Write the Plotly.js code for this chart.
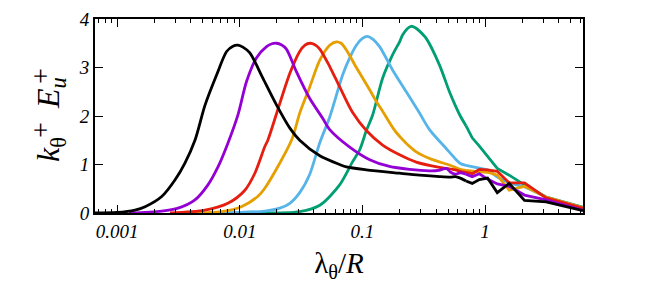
<!DOCTYPE html>
<html>
<head>
<meta charset="utf-8">
<script src="https://cdn.plot.ly/plotly-3.0.1.min.js"></script>
<style>html,body{margin:0;padding:0;background:#fff;}#chart{width:654px;height:299px;}</style>
</head>
<body>
<div id="chart"></div>
<script>
// lambda_theta / R values and k_theta^+ E_u^+ values
const blackX  = [0.00066,0.0010,0.0014,0.00169,0.00231,0.00296,0.00357,0.00431,0.0052,0.00648,0.00781,0.0088,0.00965,0.0106,0.01208,0.01542,0.0199,0.0256,0.0308,0.0449,0.0652,0.074,0.1076,0.2008,0.292,0.4249,0.524,0.571,0.628,0.698,0.785,0.898,1.047,1.257,1.571,2.094,3.142,6.283];
const blackY  = [0.0,0.01,0.06,0.13,0.34,0.68,1.03,1.5,2.22,2.85,3.33,3.44,3.46,3.42,3.3,2.78,2.23,1.75,1.5,1.18,1.0,0.95,0.89,0.82,0.78,0.75,0.74,0.75,0.72,0.66,0.61,0.69,0.72,0.42,0.61,0.26,0.23,0.05];

const purpleX = [0.00125,0.00231,0.00314,0.00431,0.0055,0.00664,0.008,0.0097,0.01135,0.0137,0.01652,0.0183,0.0199,0.0218,0.024,0.029,0.0372,0.0475,0.0541,0.0787,0.1145,0.166,0.242,0.352,0.42,0.483,0.524,0.571,0.628,0.698,0.785,0.898,1.047,1.257,1.571,2.094,3.142,6.283];
const purpleY = [0.0,0.04,0.1,0.27,0.58,0.95,1.44,2.04,2.71,3.2,3.43,3.49,3.5,3.47,3.38,2.91,2.36,1.95,1.72,1.36,1.1,0.96,0.9,0.87,0.88,0.92,0.84,0.8,0.83,0.8,0.75,0.81,0.7,0.6,0.55,0.37,0.27,0.06];

const redX    = [0.0027,0.0052,0.008,0.011,0.01327,0.016,0.01693,0.0212,0.0256,0.0308,0.034,0.0372,0.041,0.0449,0.0541,0.0652,0.0832,0.1076,0.146,0.2008,0.2746,0.4249,0.571,0.628,0.698,0.785,0.898,1.047,1.257,1.571,2.094,3.142,6.283];
const redY    = [0.0,0.06,0.2,0.47,0.82,1.37,1.5,2.26,2.88,3.33,3.46,3.5,3.47,3.38,3.02,2.6,2.07,1.7,1.4,1.2,1.05,0.94,0.89,0.86,0.84,0.81,0.9,0.89,0.86,0.62,0.62,0.31,0.1];

const orangeX = [0.0042,0.0071,0.0103,0.014,0.016,0.0264,0.0308,0.0372,0.0449,0.0541,0.0613,0.067,0.074,0.0892,0.1145,0.1298,0.146,0.1887,0.2746,0.3726,0.512,0.571,0.628,0.698,0.785,0.898,1.047,1.257,1.571,2.094,3.142,6.283];
const orangeY = [0.0,0.03,0.13,0.34,0.51,1.5,2.06,2.6,3.15,3.46,3.53,3.5,3.36,3.0,2.54,2.3,2.1,1.66,1.26,1.1,0.99,0.94,0.9,0.88,0.86,0.85,0.84,0.78,0.47,0.55,0.33,0.11];

const blueX   = [0.0065,0.016,0.0212,0.0256,0.0308,0.0372,0.0449,0.0541,0.069,0.0787,0.0892,0.1,0.1103,0.122,0.138,0.176,0.2276,0.292,0.352,0.4816,0.571,0.628,0.698,0.785,0.898,1.047,1.257,1.571,2.094,3.142,6.283];
const blueY   = [0.0,0.04,0.1,0.2,0.42,0.8,1.45,1.98,2.85,3.2,3.46,3.6,3.64,3.58,3.43,2.95,2.5,2.06,1.72,1.33,1.12,1.02,0.98,0.95,0.92,0.89,0.74,0.62,0.54,0.33,0.11];

const greenX  = [0.013,0.0308,0.0449,0.0652,0.0832,0.0949,0.1076,0.1211,0.146,0.176,0.2008,0.2124,0.232,0.25,0.27,0.292,0.331,0.4249,0.512,0.571,0.628,0.698,0.785,0.898,1.047,1.257,1.571,2.094,3.142,6.283];
const greenY  = [0.0,0.03,0.16,0.58,1.06,1.3,1.7,2.02,2.78,3.26,3.53,3.67,3.8,3.85,3.82,3.75,3.6,3.05,2.5,2.22,2.0,1.8,1.55,1.38,1.17,0.92,0.78,0.58,0.33,0.12];

const xTickVals = [0.001,0.01,0.1,1];
const xTickText = ['0.001','0.01','0.1','1'];
const yTickVals = [0,1,2,3,4];

const minorVals = [];
[0.0001,0.001,0.01,0.1,1].forEach(d => { for (let k = 2; k <= 9; k++) minorVals.push(d*k); });

const series = [
  {x: greenX,  y: greenY,  c: '#009e73'},
  {x: blueX,   y: blueY,   c: '#56b4e9'},
  {x: orangeX, y: orangeY, c: '#e69f00'},
  {x: redX,    y: redY,    c: '#e51e10'},
  {x: purpleX, y: purpleY, c: '#9400d3'},
  {x: blackX,  y: blackY,  c: '#000000'}
];
const SPLIT = 0.75; // smooth body below, coarse jagged tail above
const traces = [];
series.forEach(s => {
  const bx = [], by = [], tx = [], ty = [];
  s.x.forEach((v, i) => {
    if (v <= SPLIT) { bx.push(v); by.push(s.y[i]); }
    if (v >= SPLIT || (i + 1 < s.x.length && s.x[i + 1] > SPLIT && v <= SPLIT)) { tx.push(v); ty.push(s.y[i]); }
  });
  traces.push({x: bx, y: by, type: 'scatter', mode: 'lines',
    line: {color: s.c, width: 2.8, shape: 'spline', smoothing: 0.8}, showlegend: false, hoverinfo: 'skip'});
  traces.push({x: tx, y: ty, type: 'scatter', mode: 'lines',
    line: {color: s.c, width: 2.8}, showlegend: false, hoverinfo: 'skip'});
});

const serif = 'Liberation Serif, Times New Roman, serif';
const px = v => (v - 95) / 488;
const py = v => (213 - v) / 194;
const yTitle = (text, x, y, size) => ({
  xref: 'paper', yref: 'paper', x: px(x), y: py(y),
  xanchor: 'center', yanchor: 'middle', textangle: -90, showarrow: false,
  text: text, font: {family: serif, size: size, color: '#000'}
});
const layout = {
  width: 654, height: 299,
  margin: {l: 95, r: 71, t: 19, b: 86},
  paper_bgcolor: '#fff', plot_bgcolor: '#fff',
  font: {family: serif, color: '#000'},
  showlegend: false,
  xaxis: {
    type: 'log', range: [Math.log10(0.00066), Math.log10(6.283)],
    tickmode: 'array', tickvals: xTickVals,
    ticktext: xTickText.map(t => '<i>' + t + '</i>'),
    ticks: 'inside', ticklen: 8, tickwidth: 1, tickcolor: '#000',
    minor: {tickmode: 'array', tickvals: minorVals, ticks: 'inside', ticklen: 4, tickwidth: 1, tickcolor: '#000', showgrid: false},
    showline: true, linecolor: '#000', linewidth: 2, mirror: 'allticks',
    showgrid: false, zeroline: false,
    tickfont: {family: serif, size: 19, color: '#000'},
    title: {text: 'λ<sub>θ</sub>/<i>R</i>', font: {family: serif, size: 29, color: '#000'}, standoff: 12}
  },
  yaxis: {
    range: [0, 4], tickmode: 'array', tickvals: yTickVals,
    ticktext: yTickVals.map(v => '<i>' + v + '</i>'),
    ticks: 'inside', ticklen: 8, tickwidth: 1, tickcolor: '#000',
    showline: true, linecolor: '#000', linewidth: 2, mirror: 'allticks',
    showgrid: false, zeroline: false,
    tickfont: {family: serif, size: 19, color: '#000'}
  },
  annotations: [
    yTitle('<i>k</i><sub>θ</sub>', 50, 150, 32),
    yTitle('+', 40, 130, 28),
    yTitle('<i>E</i><sub><i>u</i></sub>', 50, 93, 32),
    yTitle('+', 40, 76, 28)
  ]
};
Plotly.newPlot('chart', traces, layout, {staticPlot: true, displayModeBar: false});
</script>
</body>
</html>
